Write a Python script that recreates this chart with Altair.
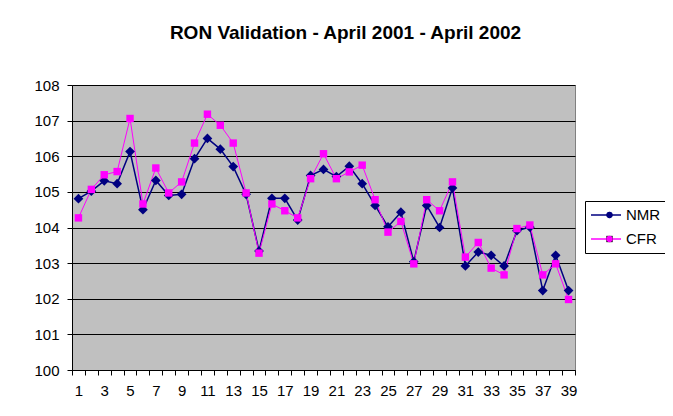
import altair as alt
import pandas as pd

months = list(range(1, 40))
nmr = [104.81, 105.02, 105.31, 105.23, 106.13, 104.50, 105.32, 104.90, 104.93, 105.93,
       106.50, 106.20, 105.71, 104.93, 103.34, 104.82, 104.82, 104.21, 105.46, 105.63,
       105.43, 105.72, 105.23, 104.62, 104.02, 104.43, 103.04, 104.62, 104.00, 105.11,
       102.92, 103.31, 103.22, 102.92, 103.91, 104.01, 102.23, 103.22, 102.23]
cfr = [104.27, 105.07, 105.48, 105.57, 107.06, 104.66, 105.67, 104.97, 105.28, 106.37,
       107.18, 106.87, 106.37, 104.97, 103.28, 104.66, 104.47, 104.27, 105.37, 106.07,
       105.37, 105.56, 105.75, 104.78, 103.87, 104.17, 102.98, 104.78, 104.47, 105.28,
       103.17, 103.58, 102.86, 102.67, 103.97, 104.07, 102.67, 102.98, 101.98]
series_names = ["NMR", "CFR"]
series_colors = ["#000080", "#FF00FF"]
series_shapes = ["M0,-1L1,0L0,1L-1,0Z", "M-1,-1L1,-1L1,1L-1,1Z"]

rows = []
for name, vals in zip(series_names, [nmr, cfr]):
    for m, v in zip(months, vals):
        rows.append({"month": m, "value": v, "series": name, "series_p": name})
df = pd.DataFrame(rows)

W, H = 503, 285
FONT = "Liberation Sans"

x_enc = alt.X(
    "month:Q",
    scale=alt.Scale(domain=[0.5, 39.5], nice=False, zero=False),
    axis=alt.Axis(
        values=[i + 0.5 for i in range(40)],
        labelExpr="(datum.value + 0.5) % 2 == 1 ? format(datum.value + 0.5, 'd') : ''",
        labelOffset=W / 39 / 2,
        labelFlush=False,
        labelOverlap=False,
        labelBound=False,
        grid=False,
        title=None,
        tickSize=5,
        labelPadding=8,
    ),
)
y_enc = alt.Y(
    "value:Q",
    scale=alt.Scale(domain=[100, 108], nice=False, zero=False),
    axis=alt.Axis(
        values=list(range(100, 109)),
        labelOverlap=False,
        grid=True,
        gridColor="#000000",
        gridOpacity=1,
        gridWidth=1,
        title=None,
        tickSize=5,
        labelPadding=8,
        format="d",
    ),
)

legend_common = dict(
    orient="none",
    legendX=513,
    legendY=116,
    title=None,
    padding=5,
    clipHeight=18,
    rowPadding=6,
    labelFont=FONT,
    labelFontSize=15,
    labelColor="#000000",
    labelOffset=4,
)

lines = alt.Chart(df).transform_calculate(
    sw="datum.series == 'NMR' ? 1.5 : 1"
).mark_line().encode(
    x=x_enc,
    y=y_enc,
    color=alt.Color(
        "series:N",
        scale=alt.Scale(domain=series_names, range=series_colors),
        legend=alt.Legend(
            symbolType="stroke",
            symbolSize=900,
            symbolStrokeWidth=1.5,
            strokeColor="#000000",
            **legend_common,
        ),
    ),
    strokeWidth=alt.StrokeWidth("sw:Q", scale=None, legend=None),
)

point_legend = dict(
    symbolSize=40,
    symbolOffset=12,
    symbolStrokeWidth=0,
    labelExpr="''",
    **legend_common,
)

points = alt.Chart(df).transform_calculate(
    sz="datum.series == 'NMR' ? 95 : 55"
).mark_point(filled=True, opacity=1, strokeWidth=0).encode(
    x=x_enc,
    y=y_enc,
    fill=alt.Fill(
        "series_p:N",
        sort=series_names,
        scale=alt.Scale(range=series_colors),
        legend=alt.Legend(**point_legend),
    ),
    shape=alt.Shape(
        "series_p:N",
        sort=series_names,
        scale=alt.Scale(range=series_shapes),
        legend=alt.Legend(**point_legend),
    ),
    size=alt.Size("sz:Q", scale=None, legend=None),
)

chart = alt.layer(lines, points).properties(
    width=W,
    height=H,
    autosize=alt.AutoSizeParams(type="none"),
    padding={"left": 64, "top": 77, "right": 90, "bottom": 38},
    title=alt.Title(
        "RON Validation - April 2001 - April 2002",
        font=FONT,
        fontSize=19,
        fontWeight="bold",
        color="#000000",
        anchor="middle",
        frame="group",
        dx=22,
        offset=35,
    ),
).configure(
    background="#FFFFFF",
).configure_view(
    fill="#C0C0C0",
    stroke="#808080",
    strokeWidth=1,
).configure_axis(
    labelFont=FONT,
    labelFontSize=15,
    labelColor="#000000",
    domainColor="#000000",
    domainWidth=1,
    tickColor="#000000",
    tickWidth=1,
)

chart.save("out.html", embed_options={"renderer": "svg", "actions": False})
